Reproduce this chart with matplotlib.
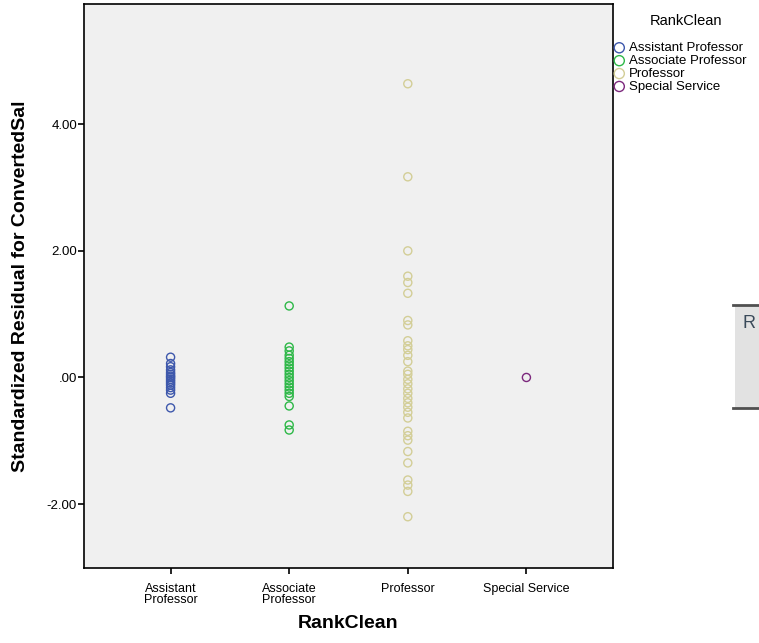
import numpy as np
import matplotlib
matplotlib.use("Agg")
import matplotlib.pyplot as plt
from matplotlib.patches import Rectangle
from matplotlib.lines import Line2D

plt.rcParams["font.family"] = ["Liberation Sans", "DejaVu Sans"]

# rank groups and their standardized residuals
ranks = ["Assistant Professor", "Associate Professor", "Professor", "Special Service"]
tick_labels = ["Assistant\nProfessor", "Associate\nProfessor", "Professor", "Special Service"]
colors = ["#3E58AC", "#2EB848", "#D3CE97", "#7C287D"]

assistant = [0.32, 0.22, 0.17, 0.12, 0.08, 0.05, 0.02, 0.0, -0.03, -0.06,
             -0.09, -0.12, -0.16, -0.2, -0.25, -0.48]
associate = [1.13, 0.48, 0.42, 0.35, 0.3, 0.25, 0.2, 0.15, 0.1, 0.05, 0.0,
             -0.05, -0.1, -0.15, -0.2, -0.25, -0.3, -0.45, -0.75, -0.83]
professor = [4.64, 3.17, 2.0, 1.6, 1.5, 1.33, 0.9, 0.83, 0.58, 0.5, 0.44,
             0.35, 0.25, 0.1, 0.05, -0.03, -0.1, -0.18, -0.25, -0.33, -0.4,
             -0.47, -0.55, -0.64, -0.85, -0.92, -0.99, -1.17, -1.35, -1.62,
             -1.7, -1.8, -2.2]
special = [0.0]
groups = [assistant, associate, professor, special]

yticks = [-2, 0, 2, 4]
ytick_labels = ["-2.00", ".00", "2.00", "4.00"]

fig = plt.figure(figsize=(7.59, 6.43), dpi=100)
ax = fig.add_axes([84 / 759, 1 - 568 / 643, (613 - 84) / 759, (568 - 4) / 643])
ax.set_facecolor("#F0F0F0")

for i, (name, vals, c) in enumerate(zip(ranks, groups, colors)):
    ax.scatter(np.full(len(vals), i), vals, s=34, facecolors="none",
               edgecolors=c, linewidths=1.0, label=name)

ax.set_xlim(-0.73, 3.73)
ax.set_ylim(-3.01, 5.9)
ax.set_xticks(range(len(ranks)))
ax.set_xticklabels(tick_labels, fontsize=9, linespacing=0.9)
ax.set_yticks(yticks)
ax.set_yticklabels(ytick_labels, fontsize=9.5)
ax.tick_params(direction="out", length=4, width=1.2)
ax.tick_params(axis="x", pad=7)
ax.tick_params(axis="y", pad=1)
for s in ax.spines.values():
    s.set_linewidth(1.2)

ax.set_xlabel("RankClean", fontsize=14, fontweight="bold", labelpad=6)
ax.set_ylabel("Standardized Residual for ConvertedSal", fontsize=14,
              fontweight="bold", labelpad=13)

# legend: title placed separately to get the wider gap seen in the original
fig.text(686 / 759, 1 - 21 / 643, "RankClean", fontsize=10.5,
         ha="center", va="center")
ax.legend(loc="upper left", bbox_to_anchor=(614 / 759, 1 - 42 / 643),
          bbox_transform=fig.transFigure, frameon=False,
          borderaxespad=0, borderpad=0, handlelength=0.8,
          handletextpad=0.3, labelspacing=0.05, fontsize=9.5,
          markerscale=1.25)

# cropped panel fragment at the right edge
fig.patches.append(Rectangle((735 / 759, 1 - 408 / 643), 24 / 759, 103 / 643,
                             transform=fig.transFigure, facecolor="#E2E2E2",
                             edgecolor="none"))
for yy in (305, 408):
    fig.lines.append(Line2D([733 / 759, 1], [1 - yy / 643] * 2,
                            transform=fig.transFigure, color="#505050", lw=2))
fig.text(743 / 759, 1 - 323 / 643, "R", fontsize=13, color="#3A4A5A",
         va="center", ha="left")

fig.savefig("out.png", dpi=100)
